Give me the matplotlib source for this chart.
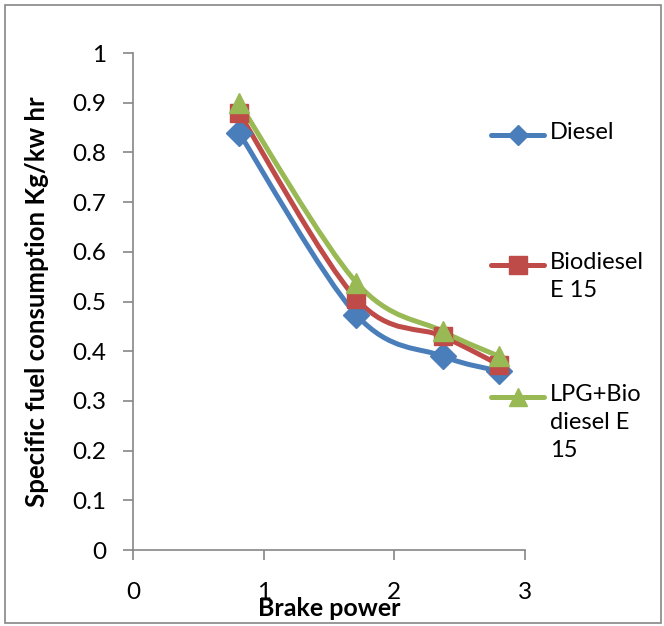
import numpy as np
import matplotlib
matplotlib.use("Agg")
import matplotlib.pyplot as plt
from matplotlib.path import Path
from matplotlib.patches import PathPatch, Rectangle
from matplotlib.lines import Line2D

plt.rcParams['font.family'] = ['Lato', 'DejaVu Sans']

# data
brake_power = [0.81, 1.71, 2.37, 2.80]
sfc_diesel = [0.84, 0.473, 0.39, 0.36]
sfc_bio = [0.88, 0.505, 0.43, 0.373]
sfc_lpg = [0.90, 0.538, 0.44, 0.39]
labels = ["Diesel", "Biodiesel\nE 15", "LPG+Bio\ndiesel E\n15"]
colors = ["#4A7EBB", "#BE4B48", "#98B954"]
markers = ["D", "s", "^"]


def smooth_path(xs, ys):
    # Excel-like smoothed line: cubic bezier between the points
    p = np.column_stack([xs, ys])
    n = len(p)
    verts = [p[0]]
    codes = [Path.MOVETO]
    for i in range(n - 1):
        p0 = p[i - 1] if i > 0 else p[i]
        p3 = p[i + 2] if i + 2 < n else p[i + 1]
        c1 = p[i] + (p[i + 1] - p0) / 6.0
        c2 = p[i + 1] - (p3 - p[i]) / 6.0
        verts += [c1, c2, p[i + 1]]
        codes += [Path.CURVE4] * 3
    return Path(verts, codes)


fig = plt.figure(figsize=(6.64, 6.26), dpi=100)
ax = fig.add_axes([0.2003, 0.1214, 0.5904, 0.7939])

series = [sfc_diesel, sfc_bio, sfc_lpg]
msizes = [13, 13, 14]
for ys, c, m, ms in zip(series, colors, markers, msizes):
    ax.add_patch(PathPatch(smooth_path(brake_power, ys), fill=False,
                           edgecolor=c, lw=3.6, capstyle='round', zorder=2))
    ax.plot(brake_power, ys, linestyle='none', marker=m, ms=ms,
            color=c, markeredgecolor=c, zorder=3)

ax.set_xlim(0, 3)
ax.set_ylim(0, 1)
ax.set_xticks([0, 1, 2, 3])
ax.set_yticks(np.arange(0, 1.01, 0.1))
ax.set_yticklabels(["0", "0.1", "0.2", "0.3", "0.4", "0.5", "0.6", "0.7", "0.8", "0.9", "1"])
for s in ["top", "right"]:
    ax.spines[s].set_visible(False)
for s in ["left", "bottom"]:
    ax.spines[s].set_color("#868686")
    ax.spines[s].set_linewidth(1.2)
ax.tick_params(axis='both', direction='out', length=7, width=1.2, color="#868686",
               labelsize=17.5, labelcolor="black")
ax.tick_params(axis='x', pad=16)
ax.tick_params(axis='y', pad=12)

ax.set_ylabel("Specific fuel consumption Kg/kw hr", fontsize=18.5, fontweight='bold')
ax.yaxis.set_label_coords(-0.214, 0.5)
ax.set_xlabel("Brake power", fontsize=18, fontweight='bold')
ax.xaxis.set_label_coords(0.5, -0.094)

# legend drawn by hand, entries spread like the original
W, H = 664.0, 626.0
leg_y = [135, 265, 397]
for lab, c, m, ms, ly in zip(labels, colors, markers, [10, 13, 13], leg_y):
    yf = 1 - ly / H
    fig.add_artist(Line2D([491 / W, 544 / W], [yf, yf], transform=fig.transFigure,
                          color=c, lw=3.6, solid_capstyle='round'))
    fig.add_artist(Line2D([517.5 / W], [yf], transform=fig.transFigure, color=c,
                          marker=m, ms=ms, linestyle='none'))
    fig.text(550 / W, yf + 13 / H, lab, fontsize=17, va='top', ha='left',
             linespacing=1.4)

fig.add_artist(Rectangle((5 / W, 3 / H), 656 / W, 618 / H, transform=fig.transFigure,
                         fill=False, edgecolor="#868686", lw=1.2))

fig.savefig("out.png", dpi=100)
